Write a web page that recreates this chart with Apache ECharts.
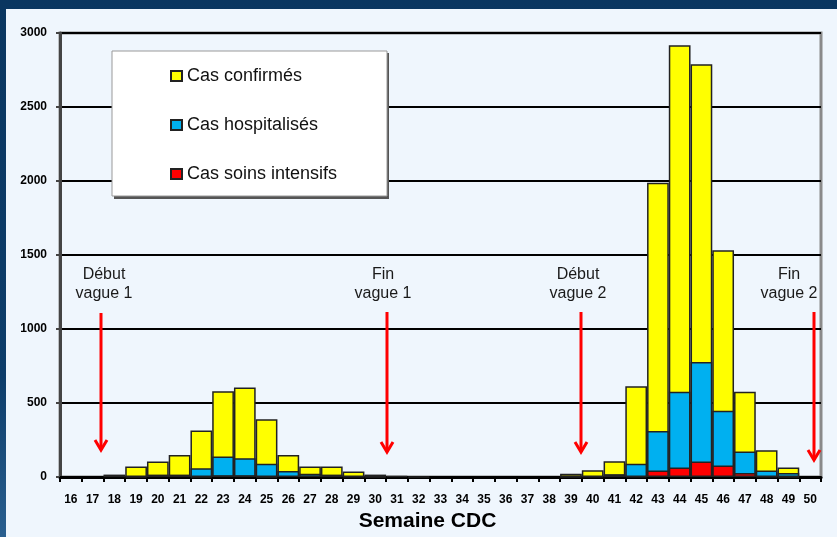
<!DOCTYPE html>
<html>
<head>
<meta charset="utf-8">
<script src="https://cdn.jsdelivr.net/npm/echarts@6/dist/echarts.min.js"></script>
<style>
html,body{margin:0;padding:0;width:837px;height:537px;overflow:hidden;background:linear-gradient(180deg,#0a3660 0%,#0d3d6a 70%,#2a5f8f 100%);}
#panel{position:absolute;left:6px;top:9px;width:831px;height:528px;background:#eff6fd;}
#chart{position:absolute;left:0;top:0;width:837px;height:537px;}
</style>
</head>
<body>
<div id="panel"></div>
<div id="chart"></div>
<script>
const weeks = ['16','17','18','19','20','21','22','23','24','25','26','27','28','29','30','31','32','33','34','35','36','37','38','39','40','41','42','43','44','45','46','47','48','49','50'];
const confirmes = [0,0,17,72,105,150,314,580,605,390,150,72,72,38,17,8,3,0,0,0,0,0,0,22,47,107,614,1988,2918,2789,1533,576,182,65,0];
const hospitalises = [0,0,0,3,17,17,60,139,128,90,42,22,17,5,2,0,0,0,0,0,0,0,0,2,5,20,90,311,576,778,448,173,45,27,0];
const soinsIntensifs = [0,0,0,0,0,0,3,12,12,3,0,0,0,0,0,0,0,0,0,0,0,0,0,0,0,0,6,45,65,105,79,27,5,3,0];
const yTicks = [0,500,1000,1500,2000,2500,3000];

const toData = a => a.map(v => v === 0 ? '-' : v);
const chart = echarts.init(document.getElementById('chart'));
const border = {borderColor:'#222', borderWidth:1.5};

function arrow(x, y1, y2){
  return [
    {type:'line', z:20, shape:{x1:x,y1:y1,x2:x,y2:y2}, style:{stroke:'#ff0000', lineWidth:3}},
    {type:'polyline', z:20, shape:{points:[[x-6,y2-10],[x,y2],[x+6,y2-10]]}, style:{stroke:'#ff0000', lineWidth:3, fill:null}}
  ];
}
function label(x, y, txt){
  return {type:'text', z:20, style:{x:x, y:y, text:txt, fill:'#1a1a1a', font:'16px "Liberation Sans", Arial', textAlign:'center', textVerticalAlign:'top', lineHeight:19}};
}

chart.setOption({
  backgroundColor:'transparent',
  animation:false,
  textStyle:{fontFamily:'"Liberation Sans", Arial'},
  grid:{left:60, right:16, top:33, bottom:58, show:true, borderColor:'#8a8a8a', borderWidth:3, backgroundColor:'transparent'},
  legend:{
    orient:'vertical', left:165, top:61, z:60, itemGap:29, itemWidth:11, itemHeight:10,
    icon:'rect',
    textStyle:{fontSize:18, color:'#111', fontFamily:'"Liberation Sans", Arial', lineHeight:20},
    data:['Cas confirmés','Cas hospitalisés','Cas soins intensifs']
  },
  xAxis:{
    type:'category', data:weeks,
    name:'Semaine CDC', nameLocation:'middle', nameGap:33,
    nameTextStyle:{fontSize:21, fontWeight:'bold', color:'#000', fontFamily:'"Liberation Sans", Arial', padding:[0,26,0,0]},
    axisLine:{lineStyle:{color:'#000', width:3}},
    axisTick:{show:true, interval:0, length:5, lineStyle:{color:'#000', width:2}},
    axisLabel:{interval:0, margin:17, fontSize:12, fontWeight:'bold', color:'#000'},
    splitLine:{show:false}
  },
  yAxis:{
    type:'value', min:yTicks[0], max:yTicks[yTicks.length-1], interval:500,
    axisLine:{show:true, lineStyle:{color:'#444', width:3}},
    axisTick:{show:true, length:4, lineStyle:{color:'#444', width:2}},
    axisLabel:{margin:13, fontSize:12, fontWeight:'bold', color:'#000', formatter:v => String(v)},
    splitLine:{lineStyle:{color:'#000', width:2}}
  },
  series:[
    {name:'Cas confirmés', type:'bar', data:toData(confirmes), barGap:'-100%', barCategoryGap:0, itemStyle:Object.assign({color:'#ffff00'}, border), z:2},
    {name:'Cas hospitalisés', type:'bar', data:toData(hospitalises), barGap:'-100%', barCategoryGap:0, itemStyle:Object.assign({color:'#00b0f0'}, border), z:3},
    {name:'Cas soins intensifs', type:'bar', data:toData(soinsIntensifs), barGap:'-100%', barCategoryGap:0, itemStyle:Object.assign({color:'#ff0000'}, border), z:4}
  ],
  graphic:[
    {type:'rect', z:40, shape:{x:114, y:53, width:275, height:146}, style:{fill:'#555'}},
    {type:'rect', z:41, shape:{x:112, y:51, width:275, height:145}, style:{fill:'#ffffff', stroke:'#999', lineWidth:1}},
    label(104, 265, 'Début\nvague 1'),
    label(383, 265, 'Fin\nvague 1'),
    label(578, 265, 'Début\nvague 2'),
    label(789, 265, 'Fin\nvague 2'),
    ...arrow(101, 313, 450),
    ...arrow(387, 312, 452),
    ...arrow(581, 312, 452),
    ...arrow(814, 312, 460)
  ]
});
</script>
</body>
</html>
